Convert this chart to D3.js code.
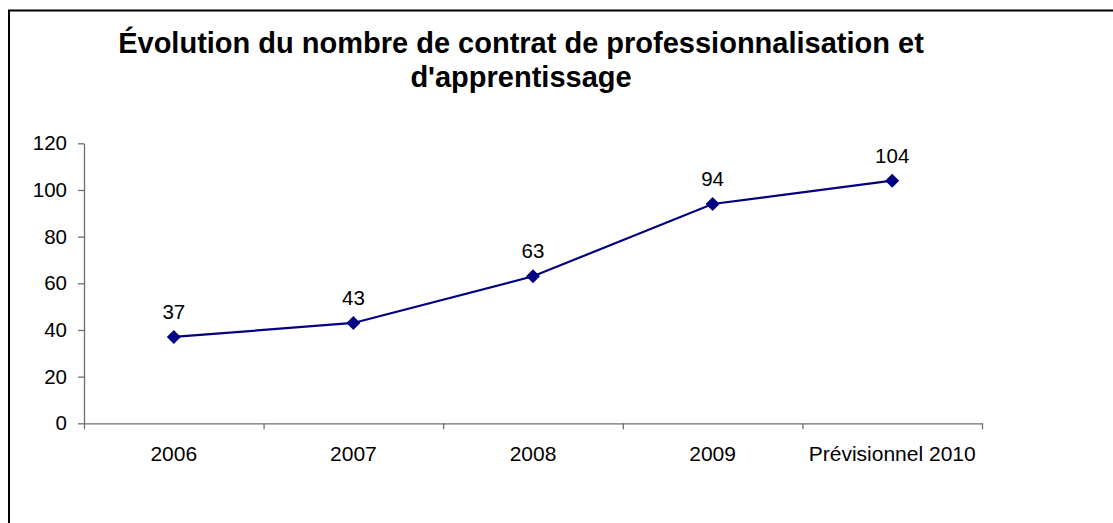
<!DOCTYPE html>
<html>
<head>
<meta charset="utf-8">
<script src="https://cdn.jsdelivr.net/npm/d3@7"></script>
<style>
  html, body { margin: 0; padding: 0; background: #fff; }
  svg { display: block; }
</style>
</head>
<body>
<svg id="chart" width="1113" height="523"></svg>
<script>
const categories = ["2006", "2007", "2008", "2009", "Prévisionnel 2010"];
const values = [37, 43, 63, 94, 104];
const yTicks = [0, 20, 40, 60, 80, 100, 120];
const titleLines = ["Évolution du nombre de contrat de professionnalisation et", "d'apprentissage"];

(function () {
const svg = d3.select("#chart");
const font = "'Liberation Sans', Arial, sans-serif";

// outer border (clipped on right and bottom like the reference)
svg.append("rect")
  .attr("x", 9).attr("y", 10.5)
  .attr("width", 1130).attr("height", 540)
  .attr("fill", "none").attr("stroke", "#000").attr("stroke-width", 2);

const plotLeft = 84, plotRight = 982, plotTop = 143.3, plotBottom = 423.3;

const x = d3.scaleBand().domain(categories).range([plotLeft, plotRight]).padding(0);
const xEdges = d3.scaleLinear().domain([0, categories.length]).range([plotLeft, plotRight]);
const y = d3.scaleLinear().domain([0, 120]).range([plotBottom, plotTop]);

// title
svg.append("g").selectAll("text").data(titleLines).join("text")
  .attr("x", 521)
  .attr("y", (d, i) => 53 + i * 34)
  .attr("text-anchor", "middle")
  .attr("font-family", font)
  .attr("font-weight", "bold")
  .attr("font-size", "29px")
  .attr("fill", "#000")
  .text(d => d);

const axisColor = "#6e6e6e";

// y axis
const yAxis = svg.append("g")
  .attr("transform", `translate(${plotLeft},0)`)
  .call(d3.axisLeft(y).tickValues(yTicks).tickSize(6).tickPadding(11).tickSizeOuter(0));
yAxis.select(".domain").attr("stroke", axisColor).attr("stroke-width", 1.3);
yAxis.selectAll(".tick line").attr("stroke", axisColor).attr("stroke-width", 1.3);
yAxis.selectAll(".tick text")
  .attr("font-family", font).attr("font-size", "20.5px").attr("fill", "#000");

// x axis tick marks at category boundaries
const xTickAxis = svg.append("g")
  .attr("transform", `translate(0,${plotBottom})`)
  .call(d3.axisBottom(xEdges).tickValues(d3.range(categories.length + 1)).tickSize(6).tickFormat("").tickSizeOuter(0));
xTickAxis.select(".domain").attr("stroke", axisColor).attr("stroke-width", 1.3);
xTickAxis.selectAll(".tick line").attr("stroke", axisColor).attr("stroke-width", 1.3);

// x axis labels
const xLabelAxis = svg.append("g")
  .attr("transform", `translate(0,${plotBottom})`)
  .call(d3.axisBottom(x).tickSize(0).tickSizeOuter(0));
xLabelAxis.select(".domain").remove();
xLabelAxis.selectAll(".tick text")
  .attr("y", 38).attr("dy", 0)
  .attr("font-family", font).attr("font-size", "21px").attr("fill", "#000");

const cx = d => x(d) + x.bandwidth() / 2;
const data = categories.map((c, i) => ({ c, v: values[i] }));

// line
svg.append("path")
  .datum(data)
  .attr("fill", "none")
  .attr("stroke", "#000080")
  .attr("stroke-width", 2.2)
  .attr("d", d3.line().x(d => cx(d.c)).y(d => y(d.v)));

// diamond markers
svg.append("g").selectAll("path").data(data).join("path")
  .attr("transform", d => `translate(${cx(d.c)},${y(d.v)})`)
  .attr("d", "M0,-7L7,0L0,7L-7,0Z")
  .attr("fill", "#000080");

// data labels
svg.append("g").selectAll("text").data(data).join("text")
  .attr("x", d => cx(d.c))
  .attr("y", d => y(d.v) - 18)
  .attr("text-anchor", "middle")
  .attr("font-family", font)
  .attr("font-size", "20.5px")
  .attr("fill", "#000")
  .text(d => d.v);
})();
</script>
</body>
</html>
